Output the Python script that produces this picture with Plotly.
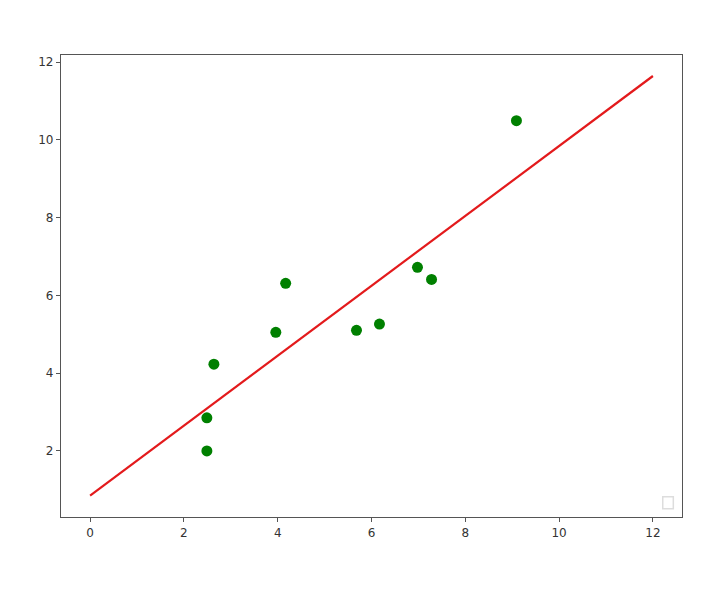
import plotly.graph_objects as go

x_points = [2.49, 2.49, 2.64, 3.96, 4.17, 5.68, 6.17, 6.98, 7.28, 9.09]
y_points = [2.0, 2.85, 4.23, 5.05, 6.31, 5.1, 5.26, 6.72, 6.41, 10.49]
x_line = [0, 12]
y_line = [0.85, 11.64]
x_ticks = [0, 2, 4, 6, 8, 10, 12]
y_ticks = [2, 4, 6, 8, 10, 12]

fig = go.Figure()
fig.add_trace(go.Scatter(x=x_line, y=y_line, mode="lines",
                         line=dict(color="#e31a1c", width=2.2), showlegend=False))
fig.add_trace(go.Scatter(x=x_points, y=y_points, mode="markers",
                         marker=dict(color="green", size=11), showlegend=False))

axis_common = dict(showgrid=False, zeroline=False, showline=True, mirror=True,
                   linecolor="#555555", linewidth=1.2, ticks="outside", ticklen=4,
                   tickcolor="#555555", tickfont=dict(family="DejaVu Sans", size=12, color="#333333"))
fig.update_xaxes(range=[-0.62, 12.62], tickvals=x_ticks, **axis_common)
fig.update_yaxes(range=[0.3, 12.18], tickvals=y_ticks, **axis_common)

# empty legend box (bottom right)
fig.add_shape(type="rect", xref="paper", yref="paper", x0=0.969, x1=0.986, y0=0.018, y1=0.044,
              line=dict(color="#dddddd", width=1.5), fillcolor="white")

fig.update_layout(width=722, height=597, plot_bgcolor="white", paper_bgcolor="white",
                  margin=dict(l=53, r=48, t=47, b=88))
fig.write_html("out.html")
